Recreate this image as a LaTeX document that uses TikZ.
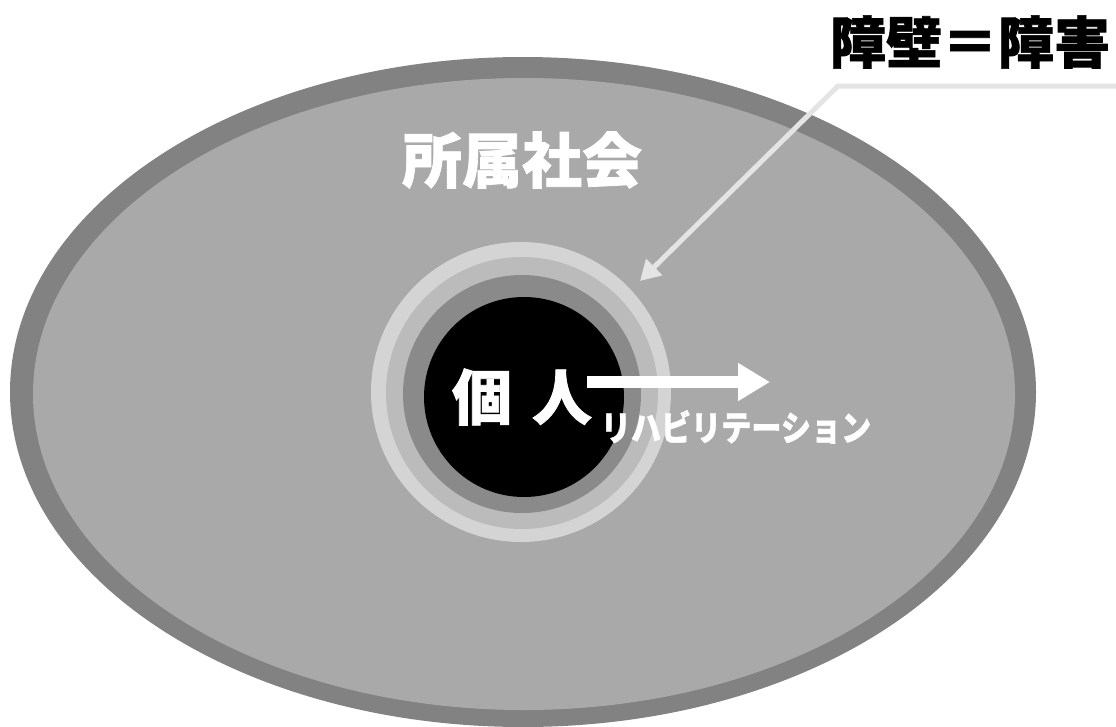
\documentclass[tikz,border=0pt]{standalone}
\usepackage{fontspec}
\newfontfamily\cjk{Noto Sans CJK JP}[BoldFeatures={FakeBold=1.2}]
\usetikzlibrary{arrows.meta}
\definecolor{bandgray}{HTML}{828282}
\definecolor{fillgray}{HTML}{A9A9A9}
\definecolor{ringA}{HTML}{D4D4D4}
\definecolor{ringB}{HTML}{BBBBBB}
\definecolor{ringC}{HTML}{8A8A8A}
\definecolor{pointer}{HTML}{E4E4E4}
\tikzset{
  whitetext/.style={text=white, font=\cjk\bfseries},
  ringdisk/.style={circle, inner sep=0pt, minimum size=#1},
  pointerline/.style={draw=pointer, line width=5pt, -{Triangle[width=22pt,length=20pt]}},
  rehabarrow/.style={draw=white, line width=12pt, -{Triangle[width=36pt,length=32pt]}}
}
\begin{document}
\begin{tikzpicture}[x=1pt,y=-1pt]
\useasboundingbox (0,0) rectangle (1116,726);
% society ellipse
\fill[bandgray] (523,392) ellipse [x radius=513, y radius=335];
\fill[fillgray] (524,394) ellipse [x radius=491, y radius=316];
% rings around the individual
\node[ringdisk=300pt, fill=ringA] (ring) at (521,392) {};
\node[ringdisk=272pt, fill=ringB] (ringb) at (522,393) {};
\node[ringdisk=238pt, fill=ringC] (ringc) at (522,394) {};
\node[ringdisk=200pt, fill=black] (core) at (524,397) {};
% titles
\node[font=\cjk\bfseries, text=black, inner sep=0pt] (title) at (970,42) {\fontsize{56pt}{56pt}\selectfont 障壁＝障害};
\node[whitetext, inner sep=0pt] (society) at (522,160) {\fontsize{60pt}{60pt}\selectfont 所属社会};
\node[whitetext, inner sep=0pt] (kojin) at (522,397) {\fontsize{60pt}{60pt}\selectfont 個\hspace{20pt}人};
\node[whitetext, inner sep=0pt, xscale=0.86] (rehab) at (736,427) {\fontsize{35pt}{35pt}\selectfont リハビリテーション};
% pointer from title to barrier ring
\coordinate (pstart) at (1116,86);
\coordinate (pbend) at (838,86);
\coordinate (ptip) at (640,281);
\draw[pointerline] (pstart) -- (pbend) -- (ptip);
% rehabilitation arrow
\coordinate (astart) at (587,382);
\coordinate (aend) at (770,382);
\draw[rehabarrow] (astart) -- (aend);
\end{tikzpicture}
\end{document}
